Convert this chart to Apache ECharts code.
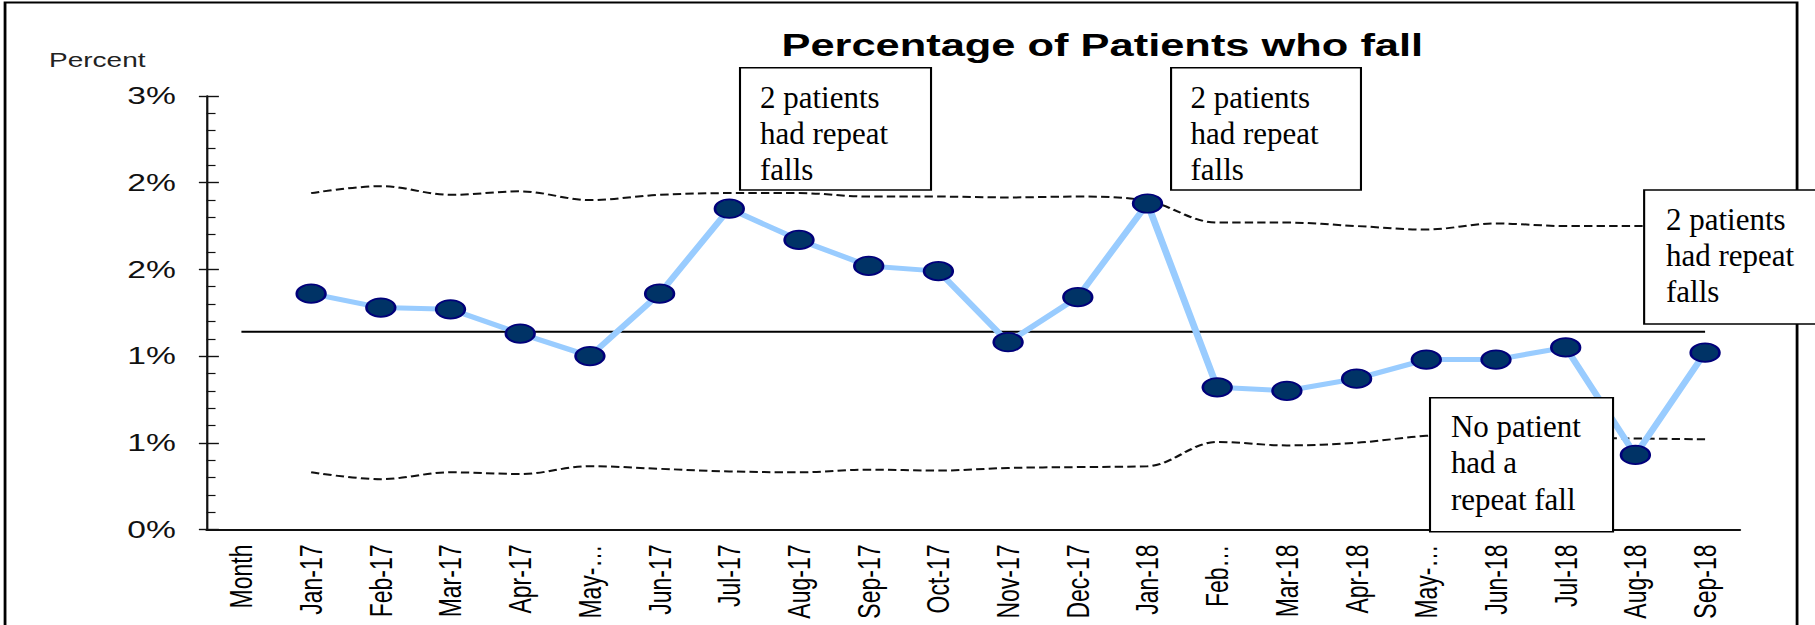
<!DOCTYPE html>
<html>
<head>
<meta charset="utf-8">
<title>Percentage of Patients who fall</title>
<script src="https://cdn.jsdelivr.net/npm/echarts@6/dist/echarts.min.js"></script>
<style>
    html, body { margin: 0; padding: 0; background: #fff; overflow: hidden; }
    /* the original chart was pasted in stretched sideways, so draw it narrow and stretch it back */
    #chart { width: 1296px; height: 625px; transform: scaleX(1.40046); transform-origin: 0 0; }
</style>
</head>
<body>
<div id="chart"></div>
<script>
    const stretch = 1815 / 1296;

    const months = ['Month', 'Jan-17', 'Feb-17', 'Mar-17', 'Apr-17', 'May-17', 'Jun-17', 'Jul-17', 'Aug-17', 'Sep-17', 'Oct-17',
        'Nov-17', 'Dec-17', 'Jan-18', 'Feb-18', 'Mar-18', 'Apr-18', 'May-18', 'Jun-18', 'Jul-18', 'Aug-18', 'Sep-18'];
    const tickLabels = ['Month', 'Jan-17', 'Feb-17', 'Mar-17', 'Apr-17', 'May-\u2026', 'Jun-17', 'Jul-17', 'Aug-17', 'Sep-17', 'Oct-17',
        'Nov-17', 'Dec-17', 'Jan-18', 'Feb\u2026', 'Mar-18', 'Apr-18', 'May-\u2026', 'Jun-18', 'Jul-18', 'Aug-18', 'Sep-18'];

    // percent of patients who fall
    const fallRate = ['-', 1.36, 1.28, 1.27, 1.13, 1.00, 1.36, 1.85, 1.67, 1.52, 1.49, 1.08,
        1.34, 1.88, 0.82, 0.80, 0.87, 0.98, 0.98, 1.05, 0.43, 1.02];
    const upperLimit = ['-', 1.94, 1.98, 1.93, 1.95, 1.90, 1.93, 1.94, 1.94, 1.92, 1.92, 1.915,
        1.92, 1.895, 1.77, 1.77, 1.75, 1.73, 1.765, 1.75, 1.75, 1.745];
    const lowerLimit = ['-', 0.33, 0.29, 0.33, 0.32, 0.365, 0.35, 0.335, 0.33, 0.345, 0.34, 0.355,
        0.36, 0.365, 0.505, 0.485, 0.50, 0.54, 0.55, 0.53, 0.525, 0.52];
    const meanLine = [1.14, 1.14, 1.14, 1.14, 1.14, 1.14, 1.14, 1.14, 1.14, 1.14, 1.14,
        1.14, 1.14, 1.14, 1.14, 1.14, 1.14, 1.14, 1.14, 1.14, 1.14, 1.14];

    const yMin = 0;
    const yMax = 2.5;
    const yStep = 0.5;

    const notes = [
        {text: '2 patients\nhad repeat\nfalls', box: [528.4, 67.7, 136.4, 122.3], at: [542.7, 79.5], lh: 36},
        {text: '2 patients\nhad repeat\nfalls', box: [836.2, 67.7, 135.6, 122.3], at: [850.1, 79.5], lh: 36},
        {text: '2 patients\nhad repeat\nfalls', box: [1174, 190, 140, 134], at: [1189.6, 201.5], lh: 36},
        {text: 'No patient\nhad a\nrepeat fall', box: [1021.1, 397.7, 130.7, 134], at: [1036, 408], lh: 36.5}
    ];

    const graphics = [
        {
            type: 'rect', z: 1,
            shape: {x: 3.6, y: 2.5, width: 1279.6, height: 640},
            style: {fill: 'none', stroke: '#000', lineWidth: 2}
        },
        {
            type: 'text', z: 10, x: 35, y: 50,
            style: {text: 'Percent', fontSize: 20, fontFamily: 'Liberation Sans', fill: '#222', verticalAlign: 'top'}
        }
    ];
    notes.forEach(n => {
        graphics.push({
            type: 'rect', z: 100,
            shape: {x: n.box[0], y: n.box[1], width: n.box[2], height: n.box[3]},
            style: {fill: '#fff', stroke: '#000', lineWidth: 1.5}
        });
        // text boxes were not stretched with the chart, so undo the page stretch on them
        graphics.push({
            type: 'text', z: 101, x: n.at[0], y: n.at[1], scaleX: 1 / stretch,
            style: {
                text: n.text, fontSize: 31, fontFamily: 'Liberation Serif', lineHeight: n.lh,
                fill: '#000', align: 'left', verticalAlign: 'top'
            }
        });
    });

    const myChart = echarts.init(document.getElementById('chart'), null, {renderer: 'svg'});
    const option = {
        animation: false,
        title: {
            text: 'Percentage of Patients who fall',
            left: 553,
            top: 25,
            textStyle: {fontFamily: 'Liberation Sans', fontWeight: 'bold', fontSize: 31, color: '#000'}
        },
        grid: {left: 147.5, right: 53.6, top: 96, bottom: 95.5},
        xAxis: {
            type: 'category',
            data: months,
            axisLine: {lineStyle: {color: '#111', width: 1.8}},
            axisTick: {length: 9, lineStyle: {color: '#111', width: 1.4}},
            axisLabel: {
                rotate: 90,
                margin: 15,
                interval: 0,
                fontFamily: 'Liberation Sans',
                fontSize: 23,
                color: '#000',
                formatter: (v, i) => tickLabels[i]
            },
            splitLine: {show: false}
        },
        yAxis: [
            {
                type: 'value',
                position: 'left',
                min: yMin,
                max: yMax,
                interval: yStep,
                axisLine: {show: true, lineStyle: {color: '#111', width: 1.6}},
                axisTick: {show: true, inside: true, length: 8.8, lineStyle: {color: '#111', width: 1.4}},
                minorTick: {show: true, splitNumber: 5, length: 6.4, lineStyle: {color: '#111', width: 1.2}},
                axisLabel: {
                    margin: 22,
                    fontFamily: 'Liberation Sans',
                    fontSize: 24,
                    color: '#111',
                    formatter: v => Math.round(v) + '%'
                },
                splitLine: {show: false}
            },
            {
                // second copy only for the outer half of the major ticks
                type: 'value',
                position: 'left',
                min: yMin,
                max: yMax,
                interval: yStep,
                axisLine: {show: false},
                axisTick: {show: true, inside: false, length: 5.5, lineStyle: {color: '#111', width: 1.4}},
                axisLabel: {show: false},
                splitLine: {show: false}
            }
        ],
        graphic: graphics,
        series: [
            {
                name: 'Mean',
                type: 'line',
                data: meanLine,
                showSymbol: false,
                lineStyle: {color: '#000', width: 2},
                z: 2
            },
            {
                name: 'Upper limit',
                type: 'line',
                data: upperLimit,
                showSymbol: false,
                smooth: 0.35,
                lineStyle: {color: '#111', width: 2, type: [6, 3]},
                z: 2
            },
            {
                name: 'Lower limit',
                type: 'line',
                data: lowerLimit,
                showSymbol: false,
                smooth: 0.35,
                lineStyle: {color: '#111', width: 2, type: [6, 3]},
                z: 2
            },
            {
                name: 'Patients who fall',
                type: 'line',
                data: fallRate,
                symbol: 'path://M0,50A50,50,0,1,1,100,50A50,50,0,1,1,0,50Z',
                symbolSize: [20.5, 18.5],
                lineStyle: {color: '#99ccff', width: 5},
                itemStyle: {color: '#003366', borderColor: '#00007a', borderWidth: 1.8},
                z: 5
            }
        ]
    };
    myChart.setOption(option);
</script>
</body>
</html>
